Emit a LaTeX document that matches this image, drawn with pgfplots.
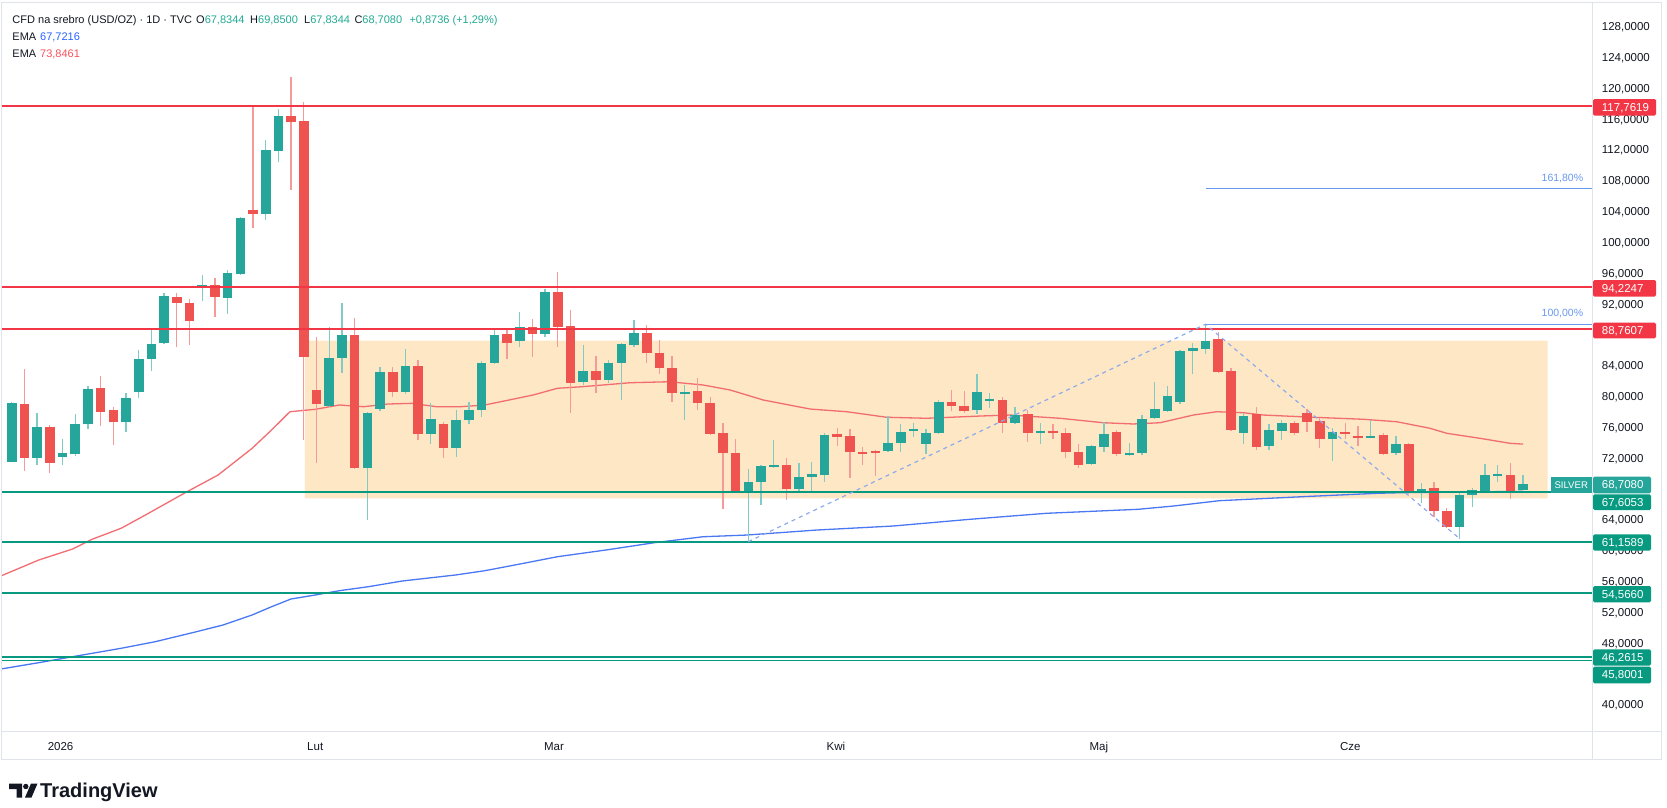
\documentclass[border=0pt]{standalone}
\usepackage{pgfplots}
\usepackage{pgfplotstable}
\pgfplotsset{compat=1.18}
\usepackage{fontspec}
\setmainfont{Liberation Sans}
\definecolor{cup}{HTML}{26A69A}
\definecolor{cdn}{HTML}{EF5350}
\definecolor{wup}{HTML}{80CBC4}
\definecolor{wdn}{HTML}{F49A98}
\definecolor{hred}{HTML}{F23645}
\definecolor{hgreen}{HTML}{089981}
\definecolor{peach}{HTML}{FDE7C5}
\definecolor{emared}{HTML}{F26D72}
\definecolor{emablue}{HTML}{4A78F2}
\definecolor{fibblue}{HTML}{6A98F0}
\definecolor{dashblue}{HTML}{8FAAEC}
\definecolor{tvtext}{HTML}{131722}
\definecolor{tvframe}{HTML}{E0E3EB}
\definecolor{hdrgreen}{HTML}{22AB94}
\definecolor{hdrblue}{HTML}{2962FF}
\definecolor{hdrred}{HTML}{F7525F}

\pgfplotstableread{
k o h l c
0 71.57 79.30 71.50 79.22
2 72.01 77.92 71.14 76.11
4 72.21 74.47 71.14 72.65
5 72.53 77.75 72.30 76.46
6 76.42 81.39 75.77 80.96
9 76.75 80.44 75.46 79.79
10 80.57 86.06 79.87 84.89
11 84.89 88.95 83.37 86.80
12 86.93 93.41 86.80 93.06
15 94.14 95.79 92.45 94.45
17 92.84 96.44 90.69 96.01
18 95.92 103.30 95.80 103.14
20 103.66 113.30 102.92 112.00
21 111.91 117.28 110.49 116.45
25 78.83 89.08 78.60 84.98
26 84.98 92.12 83.11 88.00
28 70.79 78.00 64.00 77.84
29 78.40 83.89 78.20 83.24
31 80.57 86.19 80.40 84.02
33 75.12 79.14 73.86 77.11
35 73.30 78.27 72.21 76.98
36 76.98 79.31 76.46 78.27
37 78.27 84.67 77.40 84.41
38 84.41 88.87 84.20 88.00
40 87.22 91.03 86.48 89.00
42 88.09 93.93 87.70 93.62
45 81.87 86.70 81.52 83.33
47 82.16 84.76 81.74 84.33
48 84.33 86.93 79.57 86.80
49 86.70 89.95 86.48 88.22
53 80.44 81.52 76.98 80.60
58 67.60 70.58 61.16 68.89
59 68.89 71.14 65.95 71.05
60 70.92 74.38 70.80 71.14
62 68.02 71.36 67.47 69.62
63 69.62 71.49 67.54 69.93
64 69.84 75.25 68.97 75.03
69 72.95 77.49 72.80 73.95
70 73.95 76.42 72.86 75.46
71 75.55 76.63 74.73 75.77
72 73.82 75.77 72.56 75.33
73 75.33 79.57 75.20 79.35
76 78.27 82.90 77.70 80.65
77 79.50 80.44 78.49 79.65
79 76.62 78.62 76.50 77.62
81 75.40 76.55 73.86 75.55
85 71.23 73.73 71.10 73.60
86 73.43 76.75 72.86 75.12
88 72.50 74.03 72.34 72.65
89 72.65 77.62 72.50 77.11
90 77.20 81.94 77.07 78.37
91 78.14 81.39 78.00 80.09
92 79.27 86.06 79.05 85.93
93 85.97 87.00 82.94 86.28
94 86.19 89.30 85.54 87.26
97 75.25 77.92 73.82 77.49
99 73.64 76.46 73.08 75.68
100 75.55 76.98 74.38 76.55
104 74.51 75.90 71.69 75.46
107 74.68 76.98 74.60 74.90
109 72.65 74.90 72.43 73.86
111 67.54 68.84 66.17 67.99
114 63.13 67.47 61.50 67.24
115 67.24 68.12 65.73 67.89
116 67.81 71.27 67.70 69.84
117 69.80 71.14 68.97 69.95
119 67.8344 69.85 67.8344 68.708
}\up

\pgfplotstableread{
k o h l c
1 79.05 83.55 70.40 72.01
3 76.11 76.33 70.06 71.36
7 81.09 82.68 76.24 77.97
8 78.27 78.70 73.73 76.75
13 92.97 93.49 86.41 92.12
14 92.19 92.63 86.70 89.86
16 94.45 95.36 90.38 92.97
19 104.22 117.60 101.85 103.70
22 116.41 121.51 106.81 115.60
23 115.77 118.27 74.38 85.11
24 80.87 87.78 71.36 79.05
27 88.00 90.25 70.60 70.79
30 83.24 83.81 79.92 80.57
32 84.02 84.76 74.38 75.12
34 76.46 76.68 72.01 73.30
39 88.13 88.65 84.85 86.93
41 89.00 90.08 85.19 88.13
43 93.62 96.21 86.48 89.00
44 89.17 91.25 77.92 81.74
46 83.33 85.28 80.44 82.16
50 88.22 89.30 84.33 85.63
51 85.63 87.35 82.94 83.68
52 83.68 85.28 79.35 80.44
54 80.78 82.39 78.27 79.14
55 79.22 80.00 74.97 75.16
56 75.25 76.55 65.43 72.65
57 72.65 74.47 67.50 67.60
61 71.14 72.01 66.60 67.99
65 75.12 75.98 73.60 74.81
66 74.90 75.77 69.49 72.78
67 72.86 73.51 71.14 72.56
68 72.95 73.10 69.75 72.78
74 79.35 80.87 78.14 78.79
75 78.79 80.74 77.84 78.18
78 79.57 80.00 75.33 76.62
80 77.75 78.27 74.16 75.25
82 75.55 76.42 74.47 75.40
83 75.25 75.90 72.01 72.78
84 72.86 73.82 70.79 71.14
87 75.38 75.68 72.30 72.56
95 87.48 88.35 83.11 83.24
96 83.33 83.68 75.50 75.68
98 77.75 78.70 73.08 73.51
101 76.55 76.89 75.03 75.33
102 77.84 78.37 75.46 76.75
103 76.89 77.20 73.30 74.51
105 75.46 76.55 74.47 75.12
106 74.90 76.20 73.60 74.68
108 75.03 75.33 72.43 72.53
110 73.86 73.95 67.40 67.54
112 68.12 68.97 64.43 65.21
113 65.17 65.52 63.00 63.13
118 69.84 71.43 66.69 67.68
}\down

\pgfplotstableread{
k v
-0.76 56.80
-0.54 56.96
2.13 58.81
4.80 60.24
6.33 61.50
8.62 62.93
10.53 64.65
13.58 67.47
16.25 69.84
18.93 73.30
20.46 75.68
21.91 78.05
23.89 78.36
25.80 78.92
27.70 78.70
29.61 79.05
31.52 79.14
33.43 78.70
35.34 78.70
37.24 78.92
39.16 79.57
41.06 80.22
42.97 81.09
44.88 81.29
48.70 81.81
51.76 81.94
54.43 81.52
56.56 80.87
59.18 79.57
62.86 78.40
65.75 78.05
68.90 77.33
72.05 77.20
76.24 77.49
78.61 77.62
82.54 77.20
85.95 76.62
88.31 76.46
90.42 76.62
93.04 77.62
94.88 78.05
96.98 77.92
98.55 77.62
102.49 77.33
106.43 77.07
109.06 76.75
111.68 75.90
113.00 75.25
115.61 74.60
117.98 73.95
119.00 73.85
}\emaR

\pgfplotstableread{
k v
-0.76 44.70
-0.54 44.76
2.13 45.49
4.80 46.27
8.62 47.36
11.29 48.21
14.35 49.43
16.64 50.38
18.93 51.68
20.46 52.75
21.98 53.75
23.89 54.27
25.80 54.83
28.09 55.35
30.76 56.09
34.95 56.87
37.24 57.42
40.30 58.38
42.97 59.24
46.79 60.11
50.61 61.06
54.43 61.83
57.86 62.05
63.37 62.70
69.39 63.22
75.43 64.09
81.45 64.87
88.69 65.39
91.50 65.82
95.11 66.51
101.54 67.02
107.57 67.47
109.57 67.55
119.00 67.72
}\emaB

\newcommand{\lab}{\fontsize{11.5}{13}\selectfont}
\newcommand{\hdr}{\fontsize{11}{13}\selectfont}

\pgfplotsset{candle/.style={only marks, mark=*, mark size=0pt, mark options={draw=none, fill=none}, forget plot,
  error bars/y dir=both, error bars/y explicit, error bars/error mark=none}}

\begin{document}
\begin{tikzpicture}
\begin{scope}[x=1pt,y=-1pt]
\fill[white] (0,0) rectangle (1667,808);
\path[use as bounding box] (0,0) rectangle (1667,808);
\end{scope}

\begin{axis}[
  at={(2pt,-731.7pt)}, anchor=south west,
  scale only axis, width=1590pt, height=728.7pt,
  xmin=-0.7638, xmax=124.433, ymin=36.537, ymax=131.075,
  enlargelimits=false, clip=true,
  axis line style={draw=none}, tick style={draw=none}, major tick length=0pt,
  /pgf/number format/assume math mode=true,
  ytick={40,48,52,56,60,64,72,76,80,84,92,96,100,104,108,112,116,120,124,128},
  yticklabel pos=right,
  yticklabel={\pgfmathprintnumber[fixed,fixed zerofill,precision=4,use comma,1000 sep={}]{\tick}},
  yticklabel style={anchor=base west, inner sep=0pt, xshift=9.7pt, yshift=-3.9pt, font=\lab, text=tvtext},
  xtick={3.85,23.9,42.7,64.9,85.6,105.4},
  xticklabels={2026,Lut,Mar,Kwi,Maj,Cze},
  xticklabel style={anchor=base, inner sep=0pt, yshift=-19pt, font=\lab, text=tvtext},
]
% range rectangle
\addplot[draw=none, fill=peach, forget plot] coordinates {(23.09,66.82) (120.93,66.82) (120.93,87.26) (23.09,87.26) (23.09,66.82)};

% EMAs
\addplot[emablue, line width=1.3pt, forget plot] table[x=k,y=v] {\emaB};
\addplot[emared, line width=1.3pt, forget plot] table[x=k,y=v] {\emaR};

% wicks
\addplot[candle, error bars/error bar style={line width=1.3pt, color=wup}]
  table[x=k, y expr={(\thisrow{h}+\thisrow{l})/2}, y error expr={(\thisrow{h}-\thisrow{l})/2}] {\up};
\addplot[candle, error bars/error bar style={line width=1.3pt, color=wdn}]
  table[x=k, y expr={(\thisrow{h}+\thisrow{l})/2}, y error expr={(\thisrow{h}-\thisrow{l})/2}] {\down};
% bodies
\addplot[candle, error bars/error bar style={line width=9.6pt, color=cup}]
  table[x=k, y expr={(\thisrow{o}+\thisrow{c})/2}, y error expr={abs(\thisrow{c}-\thisrow{o})/2}] {\up};
\addplot[candle, error bars/error bar style={line width=9.6pt, color=cdn}]
  table[x=k, y expr={(\thisrow{o}+\thisrow{c})/2}, y error expr={abs(\thisrow{c}-\thisrow{o})/2}] {\down};

% horizontal levels
\addplot[hred, line width=1.8pt, forget plot] coordinates {(-0.7638,117.7619) (124.433,117.7619)};
\addplot[hred, line width=1.8pt, forget plot] coordinates {(-0.7638,94.2247) (124.433,94.2247)};
\addplot[hred, line width=1.8pt, forget plot] coordinates {(-0.7638,88.7607) (124.433,88.7607)};
\addplot[hgreen, line width=1.8pt, forget plot] coordinates {(-0.7638,67.6053) (124.433,67.6053)};
\addplot[hgreen, line width=1.8pt, forget plot] coordinates {(-0.7638,61.1589) (124.433,61.1589)};
\addplot[hgreen, line width=1.8pt, forget plot] coordinates {(-0.7638,54.5660) (124.433,54.5660)};
\addplot[hgreen, line width=1.6pt, forget plot] coordinates {(-0.7638,46.2615) (124.433,46.2615)};
\addplot[hgreen, line width=1.6pt, forget plot] coordinates {(-0.7638,45.8001) (124.433,45.8001)};

% fib extension
\addplot[dashblue, line width=1.2pt, dash pattern=on 4pt off 4pt, forget plot] coordinates {(58,61.19) (94,89.40) (114,61.60)};
\addplot[fibblue, line width=1pt, forget plot] coordinates {(94,89.43) (124.433,89.43)};
\addplot[fibblue, line width=1pt, forget plot] coordinates {(94,106.95) (124.433,106.95)};
\end{axis}

\begin{scope}[x=1pt,y=-1pt]
% frame
\draw[tvframe, line width=1pt] (1.5,3) rectangle (1661.5,759);
\draw[tvframe, line width=1pt] (1.5,731.7) -- (1661.5,731.7);
\draw[tvframe, line width=1pt] (1592,3) -- (1592,759);

% header
\node[anchor=base west, inner sep=0, font=\hdr, text=tvtext] at (12.3,24) {CFD na srebro (USD/OZ) · 1D · TVC};
\node[anchor=base west, inner sep=0, font=\hdr] at (196,24) {\textcolor{tvtext}{O}\textcolor{hdrgreen}{67,8344}};
\node[anchor=base west, inner sep=0, font=\hdr] at (250,24) {\textcolor{tvtext}{H}\textcolor{hdrgreen}{69,8500}};
\node[anchor=base west, inner sep=0, font=\hdr] at (304,24) {\textcolor{tvtext}{L}\textcolor{hdrgreen}{67,8344}};
\node[anchor=base west, inner sep=0, font=\hdr] at (354.3,24) {\textcolor{tvtext}{C}\textcolor{hdrgreen}{68,7080}};
\node[anchor=base west, inner sep=0, font=\hdr, text=hdrgreen] at (409.3,24) {+0,8736 (+1,29\%)};
\node[anchor=base west, inner sep=0, font=\hdr, text=tvtext] at (12.3,40.6) {EMA};
\node[anchor=base west, inner sep=0, font=\hdr, text=hdrblue] at (40,40.6) {67,7216};
\node[anchor=base west, inner sep=0, font=\hdr, text=tvtext] at (12.3,57.2) {EMA};
\node[anchor=base west, inner sep=0, font=\hdr, text=hdrred] at (40,57.2) {73,8461};

% fib labels
\node[anchor=base east, inner sep=0, font=\fontsize{10.5}{12}\selectfont, text=fibblue] at (1583.3,181.6) {161,80\%};
\node[anchor=base east, inner sep=0, font=\fontsize{10.5}{12}\selectfont, text=fibblue] at (1583.3,316.3) {100,00\%};

% SILVER label
\fill[cup] (1550.7,477.3) rectangle (1591.7,492.7);
\node[inner sep=0, font=\fontsize{9.6}{11}\selectfont, text=white, anchor=base] at (1571.2,488.5) {SILVER};

% price tags
\fill[hred, rounded corners=1.5pt] (1593,99) rectangle (1656,115.7);
\node[anchor=base west, inner sep=0, font=\lab, text=white] at (1601.7,111.25) {117,7619};
\fill[hred, rounded corners=1.5pt] (1593,280) rectangle (1656,296.7);
\node[anchor=base west, inner sep=0, font=\lab, text=white] at (1601.7,292.25) {94,2247};
\fill[hred, rounded corners=1.5pt] (1593,322.7) rectangle (1656,338.3);
\node[anchor=base west, inner sep=0, font=\lab, text=white] at (1601.7,334.4) {88,7607};
\fill[cup, rounded corners=1.5pt] (1593,476.7) rectangle (1651,493.3);
\node[anchor=base west, inner sep=0, font=\lab, text=white] at (1601.7,488.9) {68,7080};
\fill[hgreen, rounded corners=1.5pt] (1593,494.3) rectangle (1651,510);
\node[anchor=base west, inner sep=0, font=\lab, text=white] at (1601.7,506.05) {67,6053};
\fill[hgreen, rounded corners=1.5pt] (1593,534.3) rectangle (1651,550.7);
\node[anchor=base west, inner sep=0, font=\lab, text=white] at (1601.7,546.4) {61,1589};
\fill[hgreen, rounded corners=1.5pt] (1593,586) rectangle (1651,602.3);
\node[anchor=base west, inner sep=0, font=\lab, text=white] at (1601.7,598.05) {54,5660};
\fill[hgreen, rounded corners=1.5pt] (1593,649.3) rectangle (1651,665.7);
\node[anchor=base west, inner sep=0, font=\lab, text=white] at (1601.7,661.4) {46,2615};
\fill[hgreen, rounded corners=1.5pt] (1593,666.7) rectangle (1651,683.3);
\node[anchor=base west, inner sep=0, font=\lab, text=white] at (1601.7,678.9) {45,8001};

% TradingView logo
\fill[tvtext] (9,783.5) -- (22,783.5) -- (22,797.5) -- (16.5,797.5) -- (16.5,789) -- (9,789) -- cycle;
\fill[tvtext] (25.8,786.5) circle (2.7);
\fill[tvtext] (31,783.5) -- (37.5,783.5) -- (31.5,797.5) -- (25,797.5) -- cycle;
\node[anchor=base west, inner sep=0, font=\bfseries\fontsize{20}{22}\selectfont, text=tvtext] at (40,797.5) {TradingView};
\end{scope}
\end{tikzpicture}
\end{document}
